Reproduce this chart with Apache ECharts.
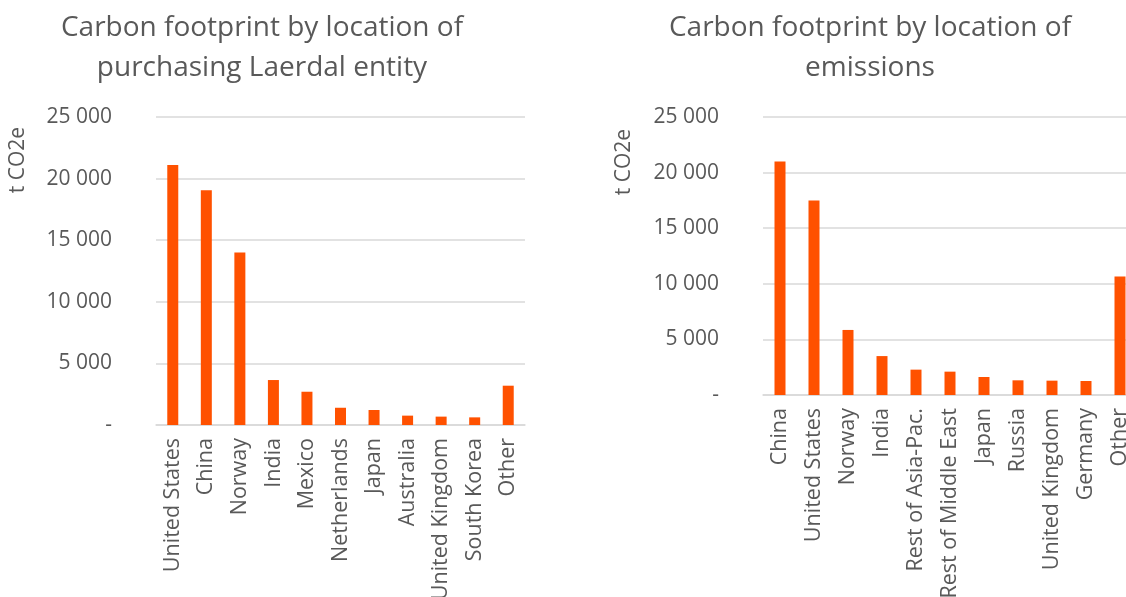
<!DOCTYPE html>
<html>
<head>
<meta charset="utf-8">
<script src="https://cdn.jsdelivr.net/npm/echarts@6/dist/echarts.min.js"></script>
<style>
  html, body { margin: 0; padding: 0; background: #fff; }
  #chart { width: 1126px; height: 597px; }
</style>
</head>
<body>
<div id="chart"></div>
<script>
// left chart: by location of purchasing Laerdal entity
const entityCats = ['United States', 'China', 'Norway', 'India', 'Mexico', 'Netherlands',
  'Japan', 'Australia', 'United Kingdom', 'South Korea', 'Other'];
const entityVals = [21100, 19050, 14000, 3650, 2700, 1400, 1220, 760, 680, 620, 3190];

// right chart: by location of emissions
const emissionCats = ['China', 'United States', 'Norway', 'India', 'Rest of Asia-Pac.',
  'Rest of Middle East', 'Japan', 'Russia', 'United Kingdom', 'Germany', 'Other'];
const emissionVals = [21000, 17500, 5850, 3500, 2280, 2100, 1620, 1320, 1290, 1260, 10650];

const yTicks = [0, 5000, 10000, 15000, 20000, 25000];

const txt = '#595959';
const font = 'Open Sans';
const orange = '#FF5100';

// 25000 -> "25 000", 0 -> "-"
function fmt(v) {
  if (v === 0) return '-';
  return String(v).replace(/\B(?=(\d{3})+(?!\d))/g, ' ');
}

function yAxis(idx) {
  return {
    type: 'value',
    gridIndex: idx,
    min: yTicks[0],
    max: yTicks[yTicks.length - 1],
    interval: yTicks[1] - yTicks[0],
    axisLine: { show: false },
    axisTick: { show: false },
    axisLabel: { formatter: fmt, color: txt, fontSize: 21, fontFamily: font, margin: 44 },
    splitLine: { lineStyle: { color: '#D9D9D9', width: 1.5 } }
  };
}

function xAxis(idx, cats) {
  return {
    type: 'category',
    gridIndex: idx,
    data: cats,
    axisTick: { show: false },
    axisLine: { lineStyle: { color: '#D9D9D9', width: 1.5 } },
    axisLabel: { rotate: 90, interval: 0, color: txt, fontSize: 21.5, fontFamily: font, margin: 13 }
  };
}

function bars(idx, vals) {
  return {
    type: 'bar',
    xAxisIndex: idx,
    yAxisIndex: idx,
    data: vals,
    barWidth: 11,
    itemStyle: { color: orange },
    silent: true
  };
}

const titleStyle = { color: txt, fontSize: 28, fontWeight: 'normal', fontFamily: font, lineHeight: 40 };

const myChart = echarts.init(document.getElementById('chart'));
myChart.setOption({
  animation: false,
  title: [
    { text: 'Carbon footprint by location of\npurchasing Laerdal entity', left: 262, top: 8,
      textAlign: 'center', padding: 0, textStyle: titleStyle },
    { text: 'Carbon footprint by location of\nemissions', left: 870, top: 8,
      textAlign: 'center', padding: 0, textStyle: titleStyle }
  ],
  grid: [
    { left: 156, right: 601, top: 117, bottom: 172, outerBoundsMode: 'none' },
    { left: 763, right: -11, top: 117, bottom: 202, outerBoundsMode: 'none' }
  ],
  xAxis: [xAxis(0, entityCats), xAxis(1, emissionCats)],
  yAxis: [yAxis(0), yAxis(1)],
  series: [bars(0, entityVals), bars(1, emissionVals)],
  graphic: [
    { type: 'text', x: 18, y: 160, rotation: Math.PI / 2,
      style: { text: 't CO2e', fill: txt, fontSize: 21, fontFamily: font, align: 'center', verticalAlign: 'middle' } },
    { type: 'text', x: 624, y: 162, rotation: Math.PI / 2,
      style: { text: 't CO2e', fill: txt, fontSize: 21, fontFamily: font, align: 'center', verticalAlign: 'middle' } }
  ]
});
</script>
</body>
</html>
